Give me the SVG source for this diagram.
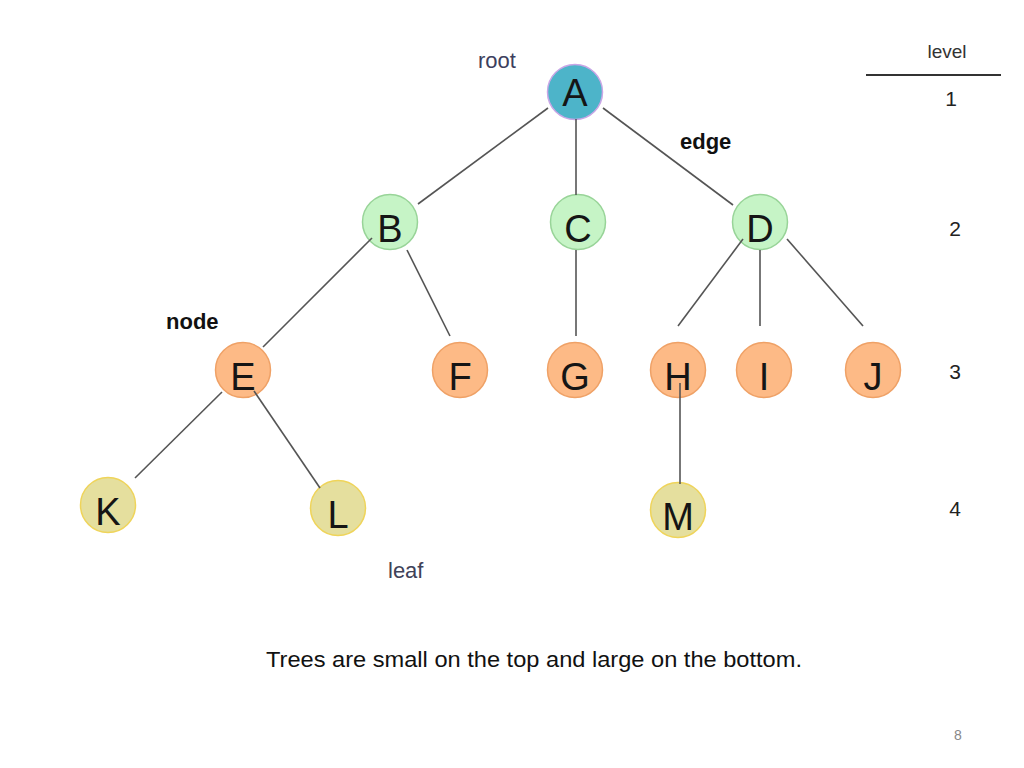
<svg xmlns="http://www.w3.org/2000/svg" width="1024" height="768" viewBox="0 0 1024 768">
<style>
.n circle{stroke-width:1.5}
.lv1{fill:#4DB4C9;stroke:#C9A6E6}
.lv2{fill:#C6F4C6;stroke:#98D498}
.lv3{fill:#FDBA86;stroke:#EFA166}
.lv4{fill:#E5DF9E;stroke:#EFD45A}
.lt{font-family:"Liberation Sans",Arial,sans-serif;font-size:38px;fill:#151515;text-anchor:middle}
.e line{stroke:#555;stroke-width:1.6}
.lab{font-family:"Liberation Sans",Arial,sans-serif;font-size:22px}
.num{font-family:"Liberation Sans",Arial,sans-serif;font-size:21px;fill:#222;text-anchor:middle}
</style>
<rect width="1024" height="768" fill="#fff"/>
<g id="nodes" class="n">
<g id="A"><circle class="lv1" cx="575" cy="92" r="27.5"/><text class="lt" x="575" y="106">A</text></g>
<g id="B"><circle class="lv2" cx="390" cy="222" r="27.5"/><text class="lt" x="390" y="242">B</text></g>
<g id="C"><circle class="lv2" cx="578" cy="222" r="27.5"/><text class="lt" x="578" y="242">C</text></g>
<g id="D"><circle class="lv2" cx="760" cy="222" r="27.5"/><text class="lt" x="760" y="242">D</text></g>
<g id="E"><circle class="lv3" cx="243" cy="370" r="27.5"/><text class="lt" x="243" y="390">E</text></g>
<g id="F"><circle class="lv3" cx="460" cy="370" r="27.5"/><text class="lt" x="460" y="390">F</text></g>
<g id="G"><circle class="lv3" cx="575" cy="370" r="27.5"/><text class="lt" x="575" y="390">G</text></g>
<g id="H"><circle class="lv3" cx="678" cy="370" r="27.5"/><text class="lt" x="678" y="390">H</text></g>
<g id="I"><circle class="lv3" cx="764" cy="370" r="27.5"/><text class="lt" x="764" y="390">I</text></g>
<g id="J"><circle class="lv3" cx="873" cy="370" r="27.5"/><text class="lt" x="873" y="390">J</text></g>
<g id="K"><circle class="lv4" cx="108" cy="505" r="27.5"/><text class="lt" x="108" y="525">K</text></g>
<g id="L"><circle class="lv4" cx="338" cy="508" r="27.5"/><text class="lt" x="338" y="528">L</text></g>
<g id="M"><circle class="lv4" cx="678" cy="510" r="27.5"/><text class="lt" x="678" y="530">M</text></g>
</g>
<g id="connectors" class="e">
<line x1="548" y1="108" x2="418" y2="204"/>
<line x1="576" y1="119" x2="576" y2="195"/>
<line x1="603" y1="108" x2="733" y2="205"/>
<line x1="372" y1="238" x2="263" y2="347"/>
<line x1="407" y1="250" x2="450" y2="336"/>
<line x1="576" y1="250" x2="576" y2="336"/>
<line x1="743" y1="239" x2="678" y2="326"/>
<line x1="760" y1="250" x2="760" y2="326"/>
<line x1="787" y1="239" x2="863" y2="326"/>
<line x1="680" y1="383" x2="680" y2="484"/>
<line x1="222" y1="392" x2="135" y2="478"/>
<line x1="254" y1="391" x2="320" y2="488"/>
</g>
<g id="labels">
<text class="lab" x="478" y="68" fill="#3D3F5E">root</text>
<text class="lab" x="680" y="149" font-weight="bold" fill="#111">edge</text>
<text class="lab" x="166" y="329" font-weight="bold" fill="#111">node</text>
<text class="lab" x="388" y="578" fill="#404258">leaf</text>
<text x="947" y="58" font-family="Liberation Sans,Arial,sans-serif" font-size="19" fill="#333" text-anchor="middle">level</text>
<line x1="866" y1="75" x2="1001" y2="75" stroke="#333" stroke-width="2"/>
<text class="num" x="951" y="106">1</text>
<text class="num" x="955" y="236">2</text>
<text class="num" x="955" y="379">3</text>
<text class="num" x="955" y="516">4</text>
<text x="266" y="667" font-family="Liberation Sans,Arial,sans-serif" font-size="22" fill="#111" textLength="536" lengthAdjust="spacingAndGlyphs">Trees are small on the top and large on the bottom.</text>
<text x="958" y="740" font-family="Liberation Sans,Arial,sans-serif" font-size="14" fill="#888" text-anchor="middle">8</text>
</g>
</svg>
